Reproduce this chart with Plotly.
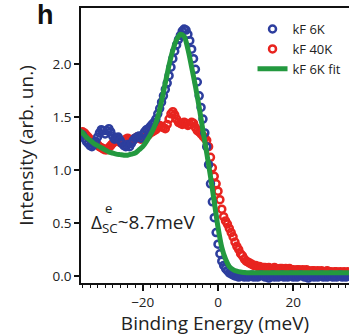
import plotly.graph_objects as go

# energy grid of the measured EDCs (meV), 0.5 meV sampling starting at -36.5
E_START = -36.5
E_STEP = 0.5

kf_6k = [
    1.34, 1.33, 1.30, 1.27, 1.25, 1.23, 1.22, 1.24, 1.27, 1.31,
    1.35, 1.38, 1.37, 1.34, 1.37, 1.39, 1.36, 1.32, 1.29, 1.30,
    1.31, 1.28, 1.25, 1.23, 1.22, 1.24, 1.22, 1.25, 1.28, 1.30,
    1.31, 1.32, 1.30, 1.33, 1.36, 1.38, 1.39, 1.41, 1.43, 1.45,
    1.48, 1.53, 1.58, 1.64, 1.70, 1.76, 1.82, 1.89, 1.97, 2.05,
    2.12, 2.18, 2.23, 2.27, 2.31, 2.33, 2.32, 2.28, 2.22, 2.14,
    2.05, 1.95, 1.83, 1.70, 1.59, 1.48, 1.35, 1.22, 1.05, 0.87,
    0.70, 0.55, 0.41, 0.30, 0.21, 0.14, 0.10, 0.07, 0.05, 0.03,
    0.02, 0.01, 0.00, 0.00, -0.01, 0.00, 0.01, -0.01, 0.00, -0.01,
    0.00, 0.01, -0.01, 0.00, -0.01, 0.00, 0.01, 0.00, -0.01, 0.00,
    -0.02, 0.00, 0.01, -0.01, 0.00, -0.01, 0.00, 0.01, -0.01, 0.00,
    -0.01, 0.00, 0.01, -0.01, 0.00, -0.01, 0.00, 0.01, 0.00, -0.01,
    0.00, -0.02, 0.00, 0.01, -0.01, 0.00, -0.01, 0.00, 0.01, -0.01,
    0.00, -0.01, 0.00, 0.01, -0.01, 0.00, -0.01, 0.00, 0.01, -0.01,
    0.00, -0.01, 0.00,
]

kf_40k = [
    1.35, 1.36, 1.35, 1.33, 1.31, 1.29, 1.27, 1.26, 1.25, 1.24,
    1.22, 1.21, 1.20, 1.19, 1.19, 1.21, 1.23, 1.25, 1.27, 1.28,
    1.27, 1.26, 1.25, 1.27, 1.29, 1.30, 1.28, 1.27, 1.29, 1.30,
    1.31, 1.30, 1.29, 1.30, 1.31, 1.32, 1.33, 1.35, 1.36, 1.37,
    1.38, 1.40, 1.42, 1.41, 1.40, 1.39, 1.43, 1.48, 1.53, 1.55,
    1.52, 1.48, 1.45, 1.44, 1.43, 1.45, 1.44, 1.42, 1.43, 1.45,
    1.44, 1.40, 1.37, 1.36, 1.34, 1.32, 1.30, 1.28, 1.22, 1.12,
    1.02, 0.94, 0.87, 0.80, 0.72, 0.63, 0.56, 0.52, 0.49, 0.45,
    0.41, 0.37, 0.32, 0.28, 0.25, 0.21, 0.19, 0.16, 0.14, 0.13,
    0.12, 0.11, 0.10, 0.10, 0.09, 0.09, 0.08, 0.08, 0.08, 0.07,
    0.08, 0.07, 0.07, 0.08, 0.07, 0.06, 0.07, 0.07, 0.06, 0.07,
    0.06, 0.07, 0.06, 0.06, 0.05, 0.06, 0.06, 0.05, 0.06, 0.05,
    0.06, 0.05, 0.04, 0.05, 0.05, 0.04, 0.05, 0.04, 0.05, 0.04,
    0.04, 0.05, 0.04, 0.04, 0.03, 0.04, 0.04, 0.03, 0.04, 0.03,
    0.04, 0.03, 0.04,
]

fit_energy = [
    -37, -36, -35, -34, -33, -32, -31, -30, -29, -28, -27, -26, -25, -24,
    -23, -22, -21, -20, -19, -18, -17, -16, -15, -14, -13, -12, -11, -10,
    -9, -8, -7, -6, -5, -4, -3, -2, -1, 0, 1, 2, 3, 4, 5, 6, 7, 8, 10,
    15, 20, 25, 30, 35,
]
kf_6k_fit = [
    1.38, 1.35, 1.31, 1.28, 1.25, 1.23, 1.21, 1.19, 1.17, 1.16, 1.15, 1.145,
    1.14, 1.14, 1.15, 1.16, 1.19, 1.22, 1.27, 1.33, 1.40, 1.50, 1.65, 1.82,
    1.99, 2.13, 2.23, 2.28, 2.26, 2.14, 1.97, 1.79, 1.59, 1.37, 1.16, 0.94,
    0.70, 0.46, 0.27, 0.16, 0.09, 0.06, 0.045, 0.037, 0.033, 0.03, 0.03,
    0.03, 0.03, 0.03, 0.03, 0.03,
]

x_ticks = [-20, 0, 20]
y_ticks = [0.0, 0.5, 1.0, 1.5, 2.0]

energy = [E_START + E_STEP * i for i in range(len(kf_6k))]

BLUE = "#2d3e9e"
RED = "#e8241f"
GREEN = "#23993f"
FONT = "Open Sans"

fig = go.Figure()
fig.add_trace(go.Scatter(
    x=energy, y=kf_40k, mode="markers", name="kF 40K", legendrank=2,
    marker=dict(symbol="circle-open", size=7, color=RED, line=dict(width=2.5, color=RED)),
))
fig.add_trace(go.Scatter(
    x=energy, y=kf_6k, mode="markers", name="kF 6K", legendrank=1,
    marker=dict(symbol="circle-open", size=7, color=BLUE, line=dict(width=2.5, color=BLUE)),
))
fig.add_trace(go.Scatter(
    x=fit_energy, y=kf_6k_fit, mode="lines", name="kF 6K fit", legendrank=3,
    line=dict(color=GREEN, width=5, shape="spline", smoothing=0.8),
))

fig.update_layout(
    width=349, height=336,
    margin=dict(l=81, r=0, t=8, b=53, autoexpand=False),
    plot_bgcolor="white", paper_bgcolor="white",
    font=dict(family=FONT, color="#222"),
    showlegend=True,
    legend=dict(
        x=0.64, y=0.978, xanchor="left", yanchor="top",
        font=dict(size=13, family=FONT, color="#222"),
        bgcolor="rgba(0,0,0,0)", tracegroupgap=0, itemwidth=30,
    ),
    xaxis=dict(
        range=[-36.4, 34.8], tickvals=x_ticks, ticks="outside", ticklen=6,
        tickwidth=1.5, tickcolor="#111", showline=True, linecolor="#111",
        linewidth=1.5, mirror=True, showgrid=False, zeroline=False, automargin=False,
        tickfont=dict(size=13.5, family=FONT),
        minor=dict(dtick=2, ticks="outside", ticklen=3, tickwidth=1.2, tickcolor="#111"),
        title=dict(text="Binding Energy (meV)", font=dict(size=19, family=FONT), standoff=1),
    ),
    yaxis=dict(
        range=[-0.066, 2.528], tickvals=y_ticks, ticktext=["0.0", "0.5", "1.0", "1.5", "2.0"],
        ticks="outside", ticklen=5, tickwidth=1.5, tickcolor="#111",
        showline=True, linecolor="#111", linewidth=1.5, mirror=False, automargin=False,
        showgrid=False, zeroline=False, tickfont=dict(size=13.5, family=FONT),
        title=dict(text="Intensity (arb. un.)", font=dict(size=19, family=FONT), standoff=14),
    ),
)

fig.add_annotation(
    x=-0.172, y=1.035, xref="paper", yref="paper", xanchor="left", yanchor="top",
    text="<b>h</b>", showarrow=False, font=dict(size=27, family="Liberation Sans", color="#111"),
)
fig.add_annotation(
    x=-34.3, y=0.50, xref="x", yref="y", xanchor="left", yanchor="middle",
    text="Δ<sub>SC</sub>~8.7meV", showarrow=False, font=dict(size=19, family=FONT, color="#222"),
)
fig.add_annotation(
    x=-29.2, y=0.64, xref="x", yref="y", xanchor="center", yanchor="middle",
    text="e", showarrow=False, font=dict(size=13, family=FONT, color="#222"),
)

fig.write_html("out.html", post_script="document.body.style.margin='0';",
               config={"displayModeBar": False})
